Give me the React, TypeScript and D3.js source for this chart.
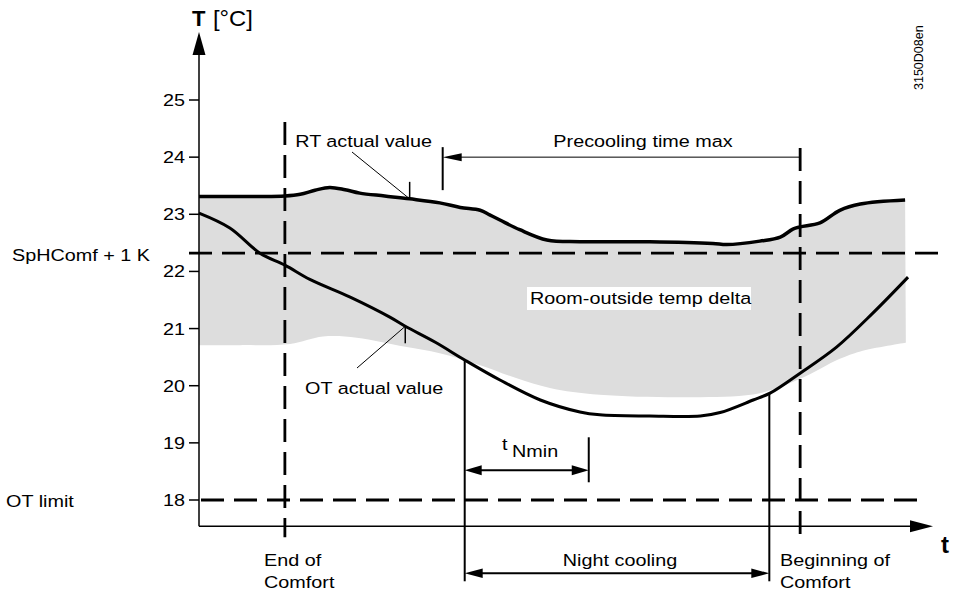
import React from "react";
import * as d3 from "d3";

// time axis has no units in the drawing: 0..100 = length of the t axis
const yTicks = [18, 19, 20, 21, 22, 23, 24, 25];

const rtValues: [number, number][] = [
  [0, 23.31], [4.2, 23.31], [8.3, 23.31], [11.7, 23.32], [13.8, 23.35],
  [15.8, 23.42], [17.8, 23.47], [19.9, 23.43], [21.9, 23.37], [25.3, 23.32],
  [28.7, 23.27], [32.8, 23.2], [35.6, 23.12], [38.3, 23.07], [39.6, 22.99],
  [41.0, 22.9], [43.7, 22.73], [47.4, 22.55], [51.9, 22.52], [61.4, 22.52],
  [70.0, 22.49], [71.9, 22.47], [76.4, 22.53], [79.2, 22.6], [80.9, 22.74],
  [81.9, 22.78], [84.6, 22.85], [87.3, 23.07], [90.1, 23.18], [96.2, 23.25],
];

const otValues: [number, number][] = [
  [0, 23.02], [4.2, 22.76], [8.3, 22.32], [11.7, 22.11], [15.1, 21.86],
  [20.6, 21.55], [26.0, 21.2], [28.1, 21.04], [32.2, 20.76], [36.2, 20.45],
  [41.0, 20.1], [46.5, 19.75], [51.9, 19.54], [54.6, 19.49], [61.4, 19.47],
  [68.3, 19.47], [71.0, 19.53], [75.5, 19.75], [77.8, 19.87], [81.9, 20.22],
  [86.9, 20.68], [91.8, 21.27], [96.6, 21.9],
];

// lower edge of the grey "room-outside temp delta" band
const deltaLower: [number, number][] = [
  [0, 20.71], [5.6, 20.71], [12.4, 20.73], [16.9, 20.86], [21.5, 20.84],
  [28.1, 20.68], [32.8, 20.57], [38.3, 20.36], [43.3, 20.13], [47.8, 19.96],
  [54.6, 19.84], [68.3, 19.8], [76.4, 19.87], [81.9, 20.12], [87.3, 20.47],
  [90.1, 20.6], [96.3, 20.75],
];

const END_COMFORT = 11.7;
const PRECOOL_START = 33.2;
const NIGHT_START = 36.2;
const TNMIN_END = 53.1;
const NIGHT_END = 77.7;
const BEGIN_COMFORT = 81.9;
const SPH_COMF = 22.32;
const OT_LIMIT = 18;
const PRECOOL_LEVEL = 24;
const TNMIN_LEVEL = 18.52;
const Y_BOTTOM = 17.54;
const Y_TOP = 26.19;

const FONT = "'Liberation Sans', Arial, Helvetica, sans-serif";
const FS = 16.5;
const DASH = "23,10";

const x = d3.scaleLinear().domain([0, 100]).range([199, 933]);
const y = d3.scaleLinear().domain([18, 25]).range([500, 100]);

const line = d3
  .line<[number, number]>()
  .x(d => x(d[0]))
  .y(d => y(d[1]))
  .curve(d3.curveCatmullRom.alpha(0.5));

function valueAt(series: [number, number][], t: number) {
  const i = d3.bisector((d: [number, number]) => d[0]).left(series, t);
  if (i <= 0) return series[0][1];
  if (i >= series.length) return series[series.length - 1][1];
  const [t0, v0] = series[i - 1];
  const [t1, v1] = series[i];
  return v0 + ((t - t0) / (t1 - t0)) * (v1 - v0);
}

// text in the source is drawn a bit wide
const Label: React.FC<{
  x: number;
  y: number;
  anchor?: "start" | "middle" | "end";
  size?: number;
  bold?: boolean;
  sx?: number;
  children: React.ReactNode;
}> = ({ x, y, anchor = "start", size = FS, bold = false, sx = 1.2, children }) => (
  <text
    transform={`translate(${x},${y}) scale(${sx},1)`}
    textAnchor={anchor}
    fontFamily={FONT}
    fontSize={size}
    fontWeight={bold ? "bold" : "normal"}
    fill="#000"
  >
    {children}
  </text>
);

function head(tx: number, ty: number, dir: "left" | "right" | "up", len = 18, half = 5) {
  let pts: [number, number][];
  if (dir === "left") pts = [[tx, ty], [tx + len, ty - half], [tx + len, ty + half]];
  else if (dir === "right") pts = [[tx, ty], [tx - len, ty - half], [tx - len, ty + half]];
  else pts = [[tx, ty], [tx - half, ty + len], [tx + half, ty + len]];
  return <polygon points={pts.map(p => p.join(",")).join(" ")} fill="#000" />;
}

const App: React.FC = () => {
  const x0 = x(0);
  const xEnd = x(100);
  const yAxis = y(Y_BOTTOM);
  const yTop = y(Y_TOP);

  const bandPath =
    line(rtValues)! +
    line([...deltaLower].reverse())!.replace(/^M/, "L") +
    "Z";

  const ySph = y(SPH_COMF);
  const yLimit = y(OT_LIMIT);
  const xEnd0 = x(END_COMFORT);
  const xBegin = x(BEGIN_COMFORT);
  const xNs = x(NIGHT_START);
  const xNe = x(NIGHT_END);
  const xPre = x(PRECOOL_START);
  const xTn = x(TNMIN_END);
  const yPre = y(PRECOOL_LEVEL);
  const yTn = y(TNMIN_LEVEL);
  const yNight = yAxis + 47;

  // leader ticks on the curves
  const rtTickX = x(28.7);
  const rtTickY = y(valueAt(rtValues, 28.7));
  const otTickX = x(28.1);
  const otTickY = y(valueAt(otValues, 28.1));

  return (
    <svg
      width={962}
      height={595}
      style={{ position: "absolute", left: 0, top: 0, background: "#fff" }}
    >
      {/* grey delta band */}
      <path d={bandPath} fill="#dddddd" stroke="none" />

      {/* horizontal dashed levels */}
      <line x1={189} x2={940} y1={ySph} y2={ySph} stroke="#000" strokeWidth={2.8} strokeDasharray={DASH} />
      <line x1={201} x2={920} y1={yLimit} y2={yLimit} stroke="#000" strokeWidth={2.8} strokeDasharray={DASH} />

      {/* vertical dashed comfort limits */}
      <line x1={xEnd0} x2={xEnd0} y1={122} y2={yAxis + 11} stroke="#000" strokeWidth={2.8} strokeDasharray={DASH} />
      <line x1={xBegin} x2={xBegin} y1={148} y2={yAxis + 11} stroke="#000" strokeWidth={2.8} strokeDasharray={DASH} />

      {/* curves */}
      <path d={line(rtValues)!} fill="none" stroke="#000" strokeWidth={3.5} strokeLinejoin="round" />
      <path d={line(otValues)!} fill="none" stroke="#000" strokeWidth={3} strokeLinejoin="round" />

      {/* axes */}
      <line x1={x0} x2={x0} y1={yAxis} y2={yTop + 20} stroke="#000" strokeWidth={1.5} />
      {head(x0, yTop, "up", 23, 6.5)}
      <line x1={x0} x2={xEnd - 20} y1={yAxis} y2={yAxis} stroke="#000" strokeWidth={1.5} />
      {head(xEnd, yAxis, "right", 23, 6)}
      {yTicks.map(t => (
        <g key={t}>
          <line x1={x0 - 10} x2={x0} y1={y(t)} y2={y(t)} stroke="#000" strokeWidth={1.5} />
          <Label x={185} y={y(t) + 6} anchor="end">{t}</Label>
        </g>
      ))}
      <Label x={192} y={26} size={22} bold sx={1}>T</Label>
      <Label x={213} y={26} size={22} sx={1.08}>[°C]</Label>
      <Label x={941} y={553} size={24} bold sx={1}>t</Label>

      {/* night cooling */}
      <line x1={xNs} x2={xNs} y1={y(valueAt(otValues, NIGHT_START))} y2={yAxis + 55} stroke="#000" strokeWidth={2} />
      <line x1={xNe} x2={xNe} y1={y(valueAt(otValues, NIGHT_END))} y2={yAxis + 55} stroke="#000" strokeWidth={2} />
      <line x1={xNs + 10} x2={xNe - 10} y1={yNight} y2={yNight} stroke="#000" strokeWidth={2} />
      {head(xNs, yNight, "left", 18, 4.7)}
      {head(xNe, yNight, "right", 18, 4.7)}
      <Label x={620} y={566} anchor="middle">Night cooling</Label>

      {/* t Nmin */}
      <line x1={xNs + 10} x2={xTn - 10} y1={yTn} y2={yTn} stroke="#000" strokeWidth={2} />
      {head(xNs, yTn, "left", 17, 5)}
      {head(xTn, yTn, "right", 17, 5)}
      <line x1={xTn} x2={xTn} y1={yTn - 33} y2={yTn + 12} stroke="#000" strokeWidth={2} />
      <Label x={502} y={450}>t</Label>
      <Label x={512} y={457}>Nmin</Label>

      {/* precooling time max */}
      <line x1={xPre + 10} x2={xBegin} y1={yPre} y2={yPre} stroke="#000" strokeWidth={1} />
      {head(xPre, yPre, "left", 19, 4)}
      <line x1={xPre} x2={xPre} y1={yPre - 10} y2={yPre + 33} stroke="#000" strokeWidth={2} />
      <Label x={643} y={147} anchor="middle">Precooling time max</Label>

      {/* RT / OT leaders */}
      <line x1={352} y1={152} x2={rtTickX} y2={rtTickY} stroke="#000" strokeWidth={1} />
      <line x1={rtTickX} x2={rtTickX} y1={rtTickY} y2={rtTickY - 17} stroke="#000" strokeWidth={1.5} />
      <Label x={432} y={147} anchor="end">RT actual value</Label>
      <line x1={357} y1={368} x2={otTickX} y2={otTickY} stroke="#000" strokeWidth={1} />
      <line x1={otTickX} x2={otTickX} y1={otTickY} y2={otTickY + 17} stroke="#000" strokeWidth={1.5} />
      <Label x={305} y={394}>OT actual value</Label>

      {/* band label */}
      <rect x={527} y={287} width={224} height={23} fill="#fff" />
      <Label x={530} y={304}>Room-outside temp delta</Label>

      {/* left labels */}
      <Label x={12} y={261}>SpHComf + 1 K</Label>
      <Label x={6} y={507}>OT limit</Label>

      {/* bottom labels */}
      <Label x={264} y={566}>End of</Label>
      <Label x={264} y={588}>Comfort</Label>
      <Label x={780} y={566}>Beginning of</Label>
      <Label x={780} y={588}>Comfort</Label>

      <text
        transform="translate(923,90) rotate(-90)"
        fontFamily={FONT}
        fontSize={12.5}
        fill="#000"
      >
        3150D08en
      </text>
    </svg>
  );
};

export default App;
